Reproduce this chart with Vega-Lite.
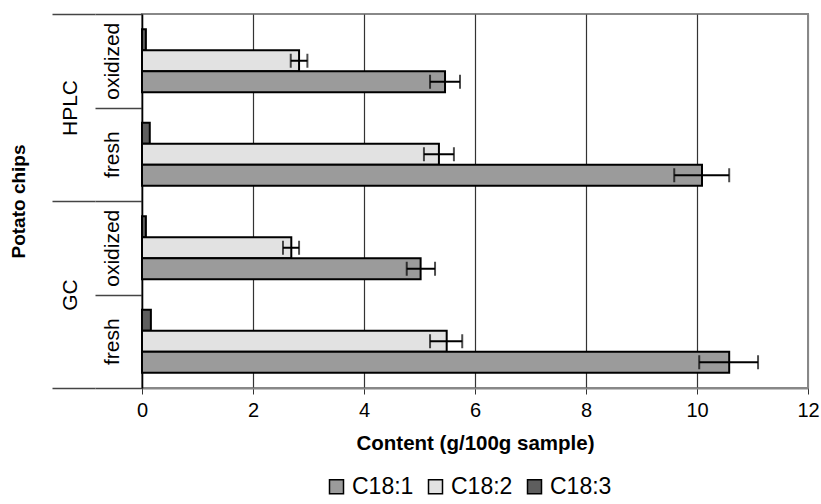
{
  "$schema": "https://vega.github.io/schema/vega-lite/v6.json",
  "width": 666,
  "height": 374,
  "autosize": "none",
  "padding": {"left": 142, "top": 14, "right": 13, "bottom": 116},
  "config": {
    "font": "Liberation Sans",
    "view": {"stroke": "#888888", "strokeWidth": 2}
  },
  "layer": [
    {
      "data": {
        "values": [
          {"group": "HPLC oxidized", "acid": "C18:3", "value": 0.07, "lo": null, "hi": null},
          {"group": "HPLC oxidized", "acid": "C18:2", "value": 2.83, "lo": 2.68, "hi": 2.98},
          {"group": "HPLC oxidized", "acid": "C18:1", "value": 5.46, "lo": 5.19, "hi": 5.73},
          {"group": "HPLC fresh", "acid": "C18:3", "value": 0.14, "lo": null, "hi": null},
          {"group": "HPLC fresh", "acid": "C18:2", "value": 5.35, "lo": 5.08, "hi": 5.62},
          {"group": "HPLC fresh", "acid": "C18:1", "value": 10.09, "lo": 9.59, "hi": 10.58},
          {"group": "GC oxidized", "acid": "C18:3", "value": 0.07, "lo": null, "hi": null},
          {"group": "GC oxidized", "acid": "C18:2", "value": 2.69, "lo": 2.54, "hi": 2.83},
          {"group": "GC oxidized", "acid": "C18:1", "value": 5.02, "lo": 4.77, "hi": 5.28},
          {"group": "GC fresh", "acid": "C18:3", "value": 0.16, "lo": null, "hi": null},
          {"group": "GC fresh", "acid": "C18:2", "value": 5.49, "lo": 5.19, "hi": 5.77},
          {"group": "GC fresh", "acid": "C18:1", "value": 10.58, "lo": 10.04, "hi": 11.1}
        ]
      },
      "encoding": {
        "y": {
          "field": "group",
          "type": "nominal",
          "sort": ["HPLC oxidized", "HPLC fresh", "GC oxidized", "GC fresh"],
          "scale": {"paddingInner": 0, "paddingOuter": 0},
          "axis": {
            "title": null,
            "labelExpr": "split(datum.label, ' ')[1]",
            "labelAngle": -90,
            "labelAlign": "center",
            "labelBaseline": "middle",
            "labelFontSize": 21,
            "labelColor": "black",
            "labelPadding": -17,
            "tickBand": "extent",
            "tickSize": 47,
            "tickColor": "#444444",
            "tickWidth": 1.5,
            "domainColor": "black",
            "domainWidth": 1.5
          }
        },
        "yOffset": {
          "field": "acid",
          "type": "nominal",
          "sort": ["C18:3", "C18:2", "C18:1"],
          "scale": {"paddingInner": 0, "paddingOuter": 0.726}
        }
      },
      "layer": [
        {
          "mark": {"type": "bar", "stroke": "black", "strokeWidth": 2},
          "encoding": {
            "x": {
              "field": "value",
              "type": "quantitative",
              "scale": {"domain": [0, 12]},
              "axis": {
                "title": "Content (g/100g sample)",
                "titleFontSize": 20.5,
                "titleFontWeight": "bold",
                "titleColor": "black",
                "titlePadding": 13,
                "values": [0, 2, 4, 6, 8, 10, 12],
                "format": "d",
                "labelFlush": false,
                "labelFontSize": 20,
                "labelColor": "black",
                "labelPadding": 6,
                "grid": true,
                "gridColor": {"condition": {"test": "datum.value == 12 || datum.value == 0", "value": "#888888"}, "value": "#333333"},
                "gridWidth": 1.2,
                "domainColor": "#888888",
                "domainWidth": 2,
                "tickColor": "#333333",
                "tickSize": 6
              }
            },
            "color": {
              "field": "acid",
              "type": "nominal",
              "scale": {"domain": ["C18:1", "C18:2", "C18:3"], "range": ["#9b9b9b", "#e2e2e2", "#5e5e5e"]},
              "legend": {
                "title": null,
                "orient": "none",
                "legendX": 183,
                "legendY": 461,
                "direction": "horizontal",
                "symbolType": "square",
                "symbolSize": 196,
                "symbolStrokeColor": "black",
                "symbolStrokeWidth": 1.5,
                "symbolOpacity": 1,
                "labelFontSize": 23,
                "labelColor": "black",
                "labelOffset": 4,
                "columnPadding": 10
              }
            }
          }
        },
        {
          "transform": [{"filter": "datum.lo != null"}],
          "mark": {"type": "rule", "color": "black", "strokeWidth": 2},
          "encoding": {
            "x": {"field": "lo", "type": "quantitative"},
            "x2": {"field": "hi"}
          }
        },
        {
          "transform": [{"filter": "datum.lo != null"}],
          "mark": {"type": "tick", "orient": "vertical", "size": 14, "thickness": 2, "color": "black"},
          "encoding": {
            "x": {"field": "lo", "type": "quantitative"}
          }
        },
        {
          "transform": [{"filter": "datum.lo != null"}],
          "mark": {"type": "tick", "orient": "vertical", "size": 14, "thickness": 2, "color": "black"},
          "encoding": {
            "x": {"field": "hi", "type": "quantitative"}
          }
        }
      ]
    },
    {
      "data": {"values": [{"method": "HPLC"}, {"method": "GC"}]},
      "mark": {"type": "point", "opacity": 0},
      "encoding": {
        "y": {
          "field": "method",
          "type": "nominal",
          "sort": ["HPLC", "GC"],
          "scale": {"paddingInner": 0, "paddingOuter": 0},
          "axis": {
            "orient": "left",
            "offset": 47,
            "title": "Potato chips",
            "titleFontSize": 19,
            "titleFontWeight": "bold",
            "titleColor": "black",
            "titleAngle": -90,
            "titleAlign": "center",
            "titleBaseline": "middle",
            "titleX": -77,
            "titleY": 187,
            "labelAngle": -90,
            "labelAlign": "center",
            "labelBaseline": "middle",
            "labelFontSize": 21,
            "labelColor": "black",
            "labelPadding": -18,
            "tickBand": "extent",
            "tickSize": 43,
            "tickColor": "#444444",
            "tickWidth": 1.5,
            "domain": false
          }
        }
      }
    }
  ],
  "resolve": {"scale": {"y": "independent"}, "axis": {"y": "independent"}}
}
